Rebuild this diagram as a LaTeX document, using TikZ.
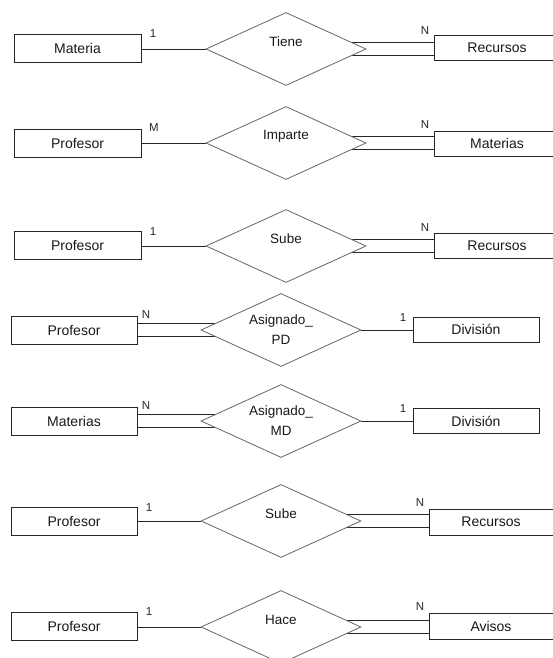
\documentclass[tikz,border=0pt]{standalone}
\usepackage{fontspec}
\setmainfont{Liberation Sans}
\usetikzlibrary{shapes.geometric,backgrounds}
\begin{document}
\begin{tikzpicture}[x=1pt,y=-1pt,
  entity/.style={draw=black!85, fill=white, line width=0.8pt, inner sep=0pt,
    font=\fontsize{14}{16}\selectfont, text=black!90},
  lent/.style={entity, minimum width=127pt, minimum height=28pt},
  rent/.style={entity, minimum width=126pt, minimum height=25pt},
  rel/.style={diamond, aspect=2.19, draw=black!60, fill=white, line width=0.8pt, inner sep=0pt,
    minimum width=160pt, minimum height=73pt,
    font=\fontsize{13.5}{20}\selectfont, text=black!90, align=center},
  rtitle/.style={font=\fontsize{13.5}{15}\selectfont, text=black!90, yshift=7pt},
  card/.style={font=\fontsize{11.5}{12}\selectfont, text=black!85, inner sep=0pt},
  link/.style={draw=black!85, line width=0.8pt},
  dlink/.style={draw=black!85, line width=0.8pt, double=white, double distance=12pt},
]
\clip (0,0) rectangle (553,658);

% ---- Materia -- Tiene -- Recursos
\node[lent] (e1) at (77.5,48) {Materia};
\node[rel, label={[rtitle]center:Tiene}] (r1) at (286,49) {};
\node[rent] (f1) at (497,48) {Recursos};
\node[card] (c1a) at (153,34) {1};
\node[card] (c1b) at (425,31) {N};

% ---- Profesor -- Imparte -- Materias
\node[lent] (e2) at (77.5,143.5) {Profesor};
\node[rel, label={[rtitle]center:Imparte}] (r2) at (286,143) {};
\node[rent] (f2) at (497,143.5) {Materias};
\node[card] (c2a) at (154,128) {M};
\node[card] (c2b) at (425,125) {N};

% ---- Profesor -- Sube -- Recursos
\node[lent] (e3) at (77.5,245.5) {Profesor};
\node[rel, label={[rtitle]center:Sube}] (r3) at (286,246) {};
\node[rent] (f3) at (497,245.5) {Recursos};
\node[card] (c3a) at (153,232) {1};
\node[card] (c3b) at (425,228) {N};

% ---- Profesor -- Asignado_PD -- División
\node[lent, minimum width=126pt] (e4) at (74,330) {Profesor};
\node[rel] (r4) at (281,330) {Asignado\_\\PD};
\node[rent] (f4) at (476,329.5) {División};
\node[card] (c4a) at (146,315) {N};
\node[card] (c4b) at (403,318) {1};

% ---- Materias -- Asignado_MD -- División
\node[lent, minimum width=126pt] (e5) at (74,421) {Materias};
\node[rel] (r5) at (281,421) {Asignado\_\\MD};
\node[rent] (f5) at (476,421) {División};
\node[card] (c5a) at (146,406) {N};
\node[card] (c5b) at (403,409) {1};

% ---- Profesor -- Sube -- Recursos
\node[lent, minimum width=126pt] (e6) at (74,521.5) {Profesor};
\node[rel, label={[rtitle]center:Sube}] (r6) at (281,521) {};
\node[rent, minimum width=124pt, minimum height=26pt] (f6) at (491,522) {Recursos};
\node[card] (c6a) at (149,508) {1};
\node[card] (c6b) at (420,503) {N};

% ---- Profesor -- Hace -- Avisos
\node[lent, minimum width=126pt] (e7) at (74,626) {Profesor};
\node[rel, label={[rtitle]center:Hace}] (r7) at (281,627) {};
\node[rent, minimum width=124pt, minimum height=26pt] (f7) at (491,626) {Avisos};
\node[card] (c7a) at (149,612) {1};
\node[card] (c7b) at (420,607) {N};

% connectors sit behind the white-filled shapes
\begin{pgfonlayer}{background}
  \draw[link]  (e1.east |- r1.center) -- (r1.west);
  \draw[dlink] (r1.center) -- (f1.west |- r1.center);
  \draw[link]  (e2.east |- r2.center) -- (r2.west);
  \draw[dlink] (r2.center) -- (f2.west |- r2.center);
  \draw[link]  (e3.east |- r3.center) -- (r3.west);
  \draw[dlink] (r3.center) -- (f3.west |- r3.center);
  \draw[dlink] (e4.east |- r4.center) -- (r4.center);
  \draw[link]  (r4.east) -- (f4.west |- r4.center);
  \draw[dlink] (e5.east |- r5.center) -- (r5.center);
  \draw[link]  (r5.east) -- (f5.west |- r5.center);
  \draw[link]  (e6.east |- r6.center) -- (r6.west);
  \draw[dlink] (r6.center) -- (f6.west |- r6.center);
  \draw[link]  (e7.east |- r7.center) -- (r7.west);
  \draw[dlink] (r7.center) -- (f7.west |- r7.center);
\end{pgfonlayer}
\end{tikzpicture}
\end{document}
